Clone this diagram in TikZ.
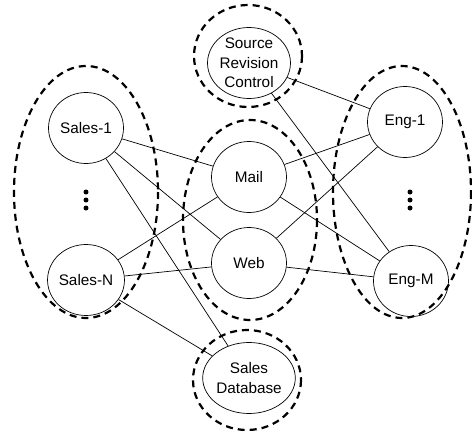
\documentclass[tikz,border=0pt]{standalone}
\usepackage{fontspec}
\setmainfont{Liberation Sans}
\usetikzlibrary{shapes.geometric}
\begin{document}
\begin{tikzpicture}[x=1pt,y=-1pt,
  host/.style={ellipse,draw,line width=0.7pt,minimum width=75pt,minimum height=71pt,inner sep=0pt,align=center,font=\fontsize{15.3}{19.5}\selectfont},
  grp/.style={draw,line width=2.2pt,dash pattern=on 7pt off 5pt},
  link/.style={line width=0.7pt},
  vdots/.style={circle,fill,inner sep=0pt,minimum size=5pt}]
\useasboundingbox (0,0) rectangle (472,434);
% group outlines
\draw[grp] (86,192) ellipse [x radius=72, y radius=126];
\draw[grp] (250,220) ellipse [x radius=67, y radius=100];
\draw[grp] (402,192) ellipse [x radius=69, y radius=126];
\draw[grp] (248,56) ellipse [x radius=54, y radius=51];
\draw[grp] (247,380) ellipse [x radius=54, y radius=50];
% hosts
\node[host] (s1) at (86,128) {Sales-1};
\node[host] (sn) at (86,280) {Sales-N};
\node[host] (mail) at (249,177) {Mail};
\node[host] (web) at (249,263) {Web};
\node[host] (e1) at (405,122) {Eng-1};
\node[host] (em) at (411,281) {Eng-M};
\node[host] (src) at (249,63) {Source\\Revision\\Control};
\node[host] (db) at (249,378) {Sales\\Database};
% dots
\foreach \y [count=\i] in {192,200,208} {
  \node[vdots] (ld\i) at (86,\y) {};
  \node[vdots] (rd\i) at (410,\y) {};
}
% links
\draw[link] (s1) -- (mail);
\draw[link] (s1) -- (web);
\draw[link] (s1) -- (db);
\draw[link] (sn) -- (mail);
\draw[link] (sn) -- (web);
\draw[link] (sn) -- (db);
\draw[link] (mail) -- (e1);
\draw[link] (mail) -- (em);
\draw[link] (web) -- (e1);
\draw[link] (web) -- (em);
\draw[link] (src) -- (e1);
\draw[link] (src) -- (em);
\end{tikzpicture}
\end{document}
